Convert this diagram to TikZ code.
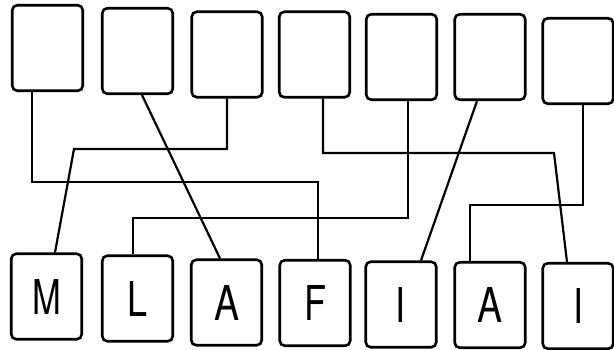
\documentclass[tikz,border=0pt]{standalone}
\usepackage{fontspec}
\usepackage{graphicx}
\setmainfont{TeX Gyre Heros}
\begin{document}
\begin{tikzpicture}[x=1pt,y=-1pt,
  box/.style={draw=black,line width=2.6pt,rounded corners=5pt,minimum width=70.5pt,minimum height=85.5pt,inner sep=0pt},
  wire/.style={draw=black,line width=2.2pt},
  let/.style={font=\fontsize{48}{48}\selectfont}]
\useasboundingbox (0,0) rectangle (614,349);
% top boxes
\node[box] (t1) at (47.5,48) {};
\node[box] (t2) at (137.5,51) {};
\node[box] (t3) at (227,54.5) {};
\node[box] (t4) at (314.5,54.5) {};
\node[box] (t5) at (401.5,57) {};
\node[box] (t6) at (490,57) {};
\node[box] (t7) at (578,61) {};
% bottom boxes
\node[box,let] (m) at (46.5,296.5) {\scalebox{0.72}[1]{M}};
\node[box,let] (l) at (137.5,298.5) {\scalebox{0.75}[1]{L}};
\node[box,let] (a) at (226.5,302.5) {\scalebox{0.78}[1]{A}};
\node[box,let] (f) at (315,303) {\scalebox{0.75}[1]{F}};
\node[box,let] (i) at (401,304.5) {\scalebox{0.75}[1]{I}};
\node[box,let] (a2) at (490,305) {\scalebox{0.78}[1]{A}};
\node[box,let] (i2) at (578,306) {\scalebox{0.75}[1]{I}};
% bend points
\coordinate (a1) at (32,182);
\coordinate (a3) at (318,182);
\coordinate (b1) at (227,149);
\coordinate (b2) at (74,149);
\coordinate (c1) at (323,153);
\coordinate (c2) at (554,153);
\coordinate (d1) at (408,218);
\coordinate (d2) at (133,218);
\coordinate (e1) at (583,205);
\coordinate (e2) at (470,205);
% connectors
\draw[wire] (t1.south -| a1) -- (a1) -- (a3) -- (f.north -| a3);
\draw[wire] ([xshift=4.5pt]t2.south) -- ([xshift=-6.5pt]a.north);
\draw[wire] (t3.south -| b1) -- (b1) -- (b2) -- ([xshift=8.5pt]m.north);
\draw[wire] (t4.south -| c1) -- (c1) -- (c2) -- ([xshift=-11pt]i2.north);
\draw[wire] (t5.south -| d1) -- (d1) -- (d2) -- (l.north -| d2);
\draw[wire] ([xshift=-13pt]t6.south) -- ([xshift=20pt]i.north);
\draw[wire] (t7.south -| e1) -- (e1) -- (e2) -- (a2.north -| e2);
\end{tikzpicture}
\end{document}
